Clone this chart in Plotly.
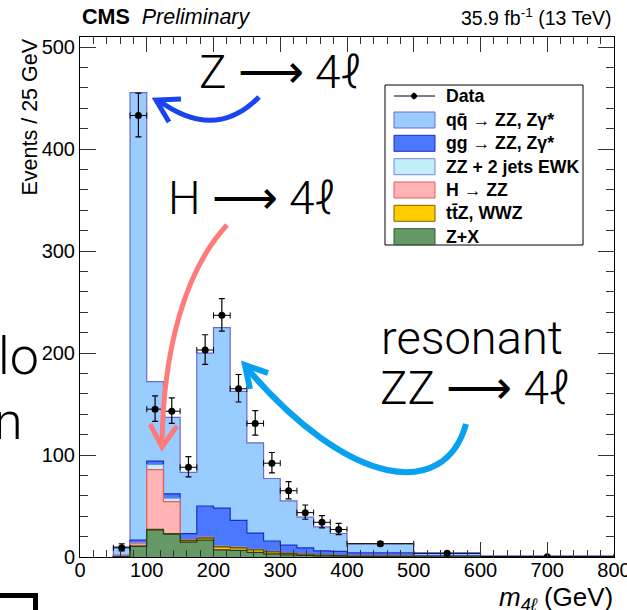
import plotly.graph_objects as go

# ---------------- data ----------------
edges = [50, 75, 100, 125, 150, 175, 200, 225, 250, 275, 300, 325, 350, 375, 400, 500, 600, 800]

zx   = [0.3, 10.5, 26.5, 22.5, 14.5, 16.5, 7.0, 6.5, 4.5, 3.0, 2.0, 1.5, 1.0, 0.8, 0.5, 0.1, 0.02]
ttz  = [0.0, 0.3, 0.5, 0.5, 1.5, 2.0, 3.0, 2.5, 2.5, 2.0, 1.5, 1.2, 0.8, 0.7, 0.5, 0.1, 0.02]
higgs = [0.8, 2.2, 58.7, 31.3, 0.5, 0.5, 0.3, 0.2, 0.1, 0.1, 0.1, 0.1, 0.05, 0.05, 0.03, 0.01, 0.0]
ewk  = [0.1, 1.0, 5.0, 3.5, 0.5, 1.0, 1.0, 0.8, 0.7, 0.6, 0.6, 0.5, 0.4, 0.4, 0.4, 0.2, 0.05]
gg   = [0.3, 2.5, 3.4, 4.2, 6.0, 30.0, 36.7, 26.0, 15.7, 10.0, 7.4, 5.6, 3.8, 3.6, 2.6, 0.6, 0.15]
qq   = [8.5, 439, 78, 75, 60, 150, 177, 126.5, 88.5, 61.3, 43.5, 30.2, 23.4, 17.5, 9.0, 3.0, 0.8]

data_y  = [9, 433, 145, 143, 88, 203, 237, 165, 131, 92, 65, 43.5, 34, 27, 13, 3.6, 0.3]
data_hi = [4, 22, 13, 13, 10.5, 15, 16.5, 14, 12.5, 10.5, 9, 7.5, 6.5, 6, 2, 1.1, 0.3]
data_lo = [3, 21, 12, 12, 9.5, 14, 15.5, 13, 11.5, 9.5, 8, 6.5, 5.5, 5, 1.8, 0.9, 0.2]

legend_labels = ["q" + "q\u0304" + " \u2192 ZZ, Z\u03b3*", "gg \u2192 ZZ, Z\u03b3*", "ZZ + 2 jets EWK",
                 "H \u2192 ZZ", "t" + "t\u0304" + "Z, WWZ", "Z+X"]

# styles
comp_fill = ["#669966", "#ffcc00", "#ffb3b3", "#c2eefa", "#4a78ff", "#99ccff"]
comp_line = ["#1f3d1f", "#5a4a00", "#e06060", "#7a86d8", "#1a2fc8", "#6a6ad0"]
legend_fill = ["#99ccff", "#4a78ff", "#c2eefa", "#ffb3b3", "#ffcc00", "#669966"]
legend_line = ["#6a6ad0", "#1a2fc8", "#7a86d8", "#e06060", "#806000", "#2f5a2f"]

FONT = "Liberation Sans, Arial, Helvetica, sans-serif"
BIG = "Roboto, Lato, 'Open Sans', sans-serif"

# ---------------- build stack ----------------
comps = [zx, ttz, higgs, ewk, gg, qq]
cum = []
run = [0.0] * len(qq)
for c in comps:
    run = [a + b for a, b in zip(run, c)]
    cum.append(run)

step_x = [edges[0]] + edges[:-1] + [edges[-1]]

fig = go.Figure()
for i in reversed(range(len(comps))):
    fig.add_trace(go.Scatter(
        x=step_x, y=[0] + cum[i] + [0], mode="lines", line_shape="hv",
        line=dict(color=comp_line[i], width=1.2), fill="tozeroy",
        fillcolor=comp_fill[i], showlegend=False, hoverinfo="skip"))

centers = [(edges[i] + edges[i + 1]) / 2 for i in range(len(edges) - 1)]
halfw = [(edges[i + 1] - edges[i]) / 2 for i in range(len(edges) - 1)]
fig.add_trace(go.Scatter(
    x=centers, y=data_y, mode="markers",
    marker=dict(color="black", size=7),
    error_y=dict(type="data", array=data_hi, arrayminus=data_lo, color="black", thickness=1.2, width=3),
    error_x=dict(type="data", array=halfw, color="black", thickness=1, width=3),
    showlegend=False))

# ---------------- layout ----------------
L, R, T, B, W, H = 80, 13, 37, 53, 627, 610
PW, PH = W - L - R, H - T - B


def px(x):
    return (x - L) / PW


def py(y):
    return (H - B - y) / PH


def path(pts_str):
    out = []
    for tok in pts_str.split():
        if "," in tok:
            a, b = tok.split(",")
            out.append(f"{px(float(a)):.5f},{py(float(b)):.5f}")
        else:
            out.append(tok)
    return " ".join(out)


axis_common = dict(showgrid=False, zeroline=False, showline=True, linecolor="black", linewidth=1,
                   mirror="ticks", ticks="inside", tickcolor="#333", tickwidth=1,
                   ticklabeloverflow="allow", automargin=False,
                   tickfont=dict(family=FONT, size=20, color="black"))
fig.update_layout(
    width=W, height=H, autosize=False,
    margin=dict(l=L, r=R, t=T, b=B, autoexpand=False),
    paper_bgcolor="white", plot_bgcolor="white",
    xaxis=dict(range=[0, 800], tick0=0, dtick=100, ticklen=15, ticklabelstandoff=-5,
               minor=dict(dtick=20, ticks="inside", ticklen=7, tickcolor="#333"), **axis_common),
    yaxis=dict(range=[0, 510], tick0=0, dtick=100, ticklen=16,
               minor=dict(dtick=20, ticks="inside", ticklen=8, tickcolor="#333"), **axis_common),
)

ann = []
shapes = []
# titles
ann.append(dict(text="<b>CMS</b>  <i>Preliminary</i>", x=px(80), y=py(31), xanchor="left", yanchor="bottom",
                font=dict(family=FONT, size=21.5, color="black"), showarrow=False, xref="paper", yref="paper"))
ann.append(dict(text="35.9 fb<sup>-1</sup> (13 TeV)", x=px(614), y=py(31), xanchor="right", yanchor="bottom",
                font=dict(family=FONT, size=19.5, color="black"), showarrow=False, xref="paper", yref="paper"))
ann.append(dict(text="Events / 25 GeV", textangle=-90, x=px(29), y=py(37), xanchor="center", yanchor="top",
                font=dict(family=FONT, size=21.5, color="black"), showarrow=False, xref="paper", yref="paper"))
ann.append(dict(text="<i>m</i><sub><i>4\u2113</i></sub> (GeV)", x=px(615), y=py(580), xanchor="right", yanchor="top",
                font=dict(family=FONT, size=26, color="black"), showarrow=False, xref="paper", yref="paper"))

# legend
shapes.append(dict(type="rect", xref="paper", yref="paper", x0=px(385), x1=px(583), y0=py(85), y1=py(245),
                   line=dict(color="black", width=1), fillcolor="white", layer="above"))
shapes.append(dict(type="line", xref="paper", yref="paper", x0=px(394), x1=px(435), y0=py(96), y1=py(96),
                   line=dict(color="black", width=1), layer="above"))
shapes.append(dict(type="line", xref="paper", yref="paper", x0=px(414), x1=px(414), y0=py(92.5), y1=py(99.5),
                   line=dict(color="black", width=1), layer="above"))
shapes.append(dict(type="circle", xref="paper", yref="paper", x0=px(411.5), x1=px(416.5), y0=py(93.5), y1=py(98.5),
                   line=dict(color="black", width=1), fillcolor="black", layer="above"))
ann.append(dict(text="<b>Data</b>", x=px(444), y=py(96), xanchor="left", yanchor="middle",
                font=dict(family=FONT, size=17.7, color="black"), showarrow=False, xref="paper", yref="paper"))
row_y = [120, 143.3, 166.7, 190, 213.3, 236.7]
for lab, fc, lc, yy in zip(legend_labels, legend_fill, legend_line, row_y):
    shapes.append(dict(type="rect", xref="paper", yref="paper", x0=px(394), x1=px(435), y0=py(yy - 8), y1=py(yy + 8),
                       line=dict(color=lc, width=1), fillcolor=fc, layer="above"))
    ann.append(dict(text="<b>" + lab + "</b>", x=px(444), y=py(yy), xanchor="left", yanchor="middle",
                    font=dict(family=FONT, size=17.7, color="black"), showarrow=False, xref="paper", yref="paper"))

# slide overlays: texts
for txt, xc, yc in [("Z \u27f6 4\u2113", 280, 72), ("H \u27f6 4\u2113", 252, 198),
                    ("resonant", 472, 337), ("ZZ \u27f6 4\u2113", 475, 388)]:
    ann.append(dict(text=txt, x=px(xc), y=py(yc), xanchor="center", yanchor="middle",
                    font=dict(family=BIG, size=47 if txt == "resonant" else 46, color="black", weight=300),
                    showarrow=False, xref="paper", yref="paper"))
ann.append(dict(text="lo", x=px(41), y=py(356), xanchor="right", yanchor="middle",
                font=dict(family=BIG, size=52, color="black", weight=300), showarrow=False, xref="paper", yref="paper"))
ann.append(dict(text="n", x=px(25), y=py(421), xanchor="right", yanchor="middle",
                font=dict(family=BIG, size=52, color="black", weight=300), showarrow=False, xref="paper", yref="paper"))

# slide overlays: arrows
arrows = [
    ("M 259,97 Q 215,142 158,100", "M 181,99 L 156,100 L 169,122", "#1a44f0", 5),
    ("M 227,225 C 185,270 163,350 162,446", "M 150,424 L 162,447 L 177,426", "#ff7b7b", 5),
    ("M 466,424 C 445,500 350,490 245,366", "M 268,373 L 245,365 L 250,389", "#0aa0f0", 6),
]
for curve, head, col, wd in arrows:
    for p in (curve, head):
        shapes.append(dict(type="path", xref="paper", yref="paper", path=path(p),
                           line=dict(color=col, width=wd), layer="above"))
# bracket at bottom-left
shapes.append(dict(type="path", xref="paper", yref="paper", path=path("M -2,595.5 L 35.5,595.5 L 35.5,614"),
                   line=dict(color="black", width=5), layer="above"))

fig.update_layout(annotations=ann, shapes=shapes)
fig.write_html("out.html")
